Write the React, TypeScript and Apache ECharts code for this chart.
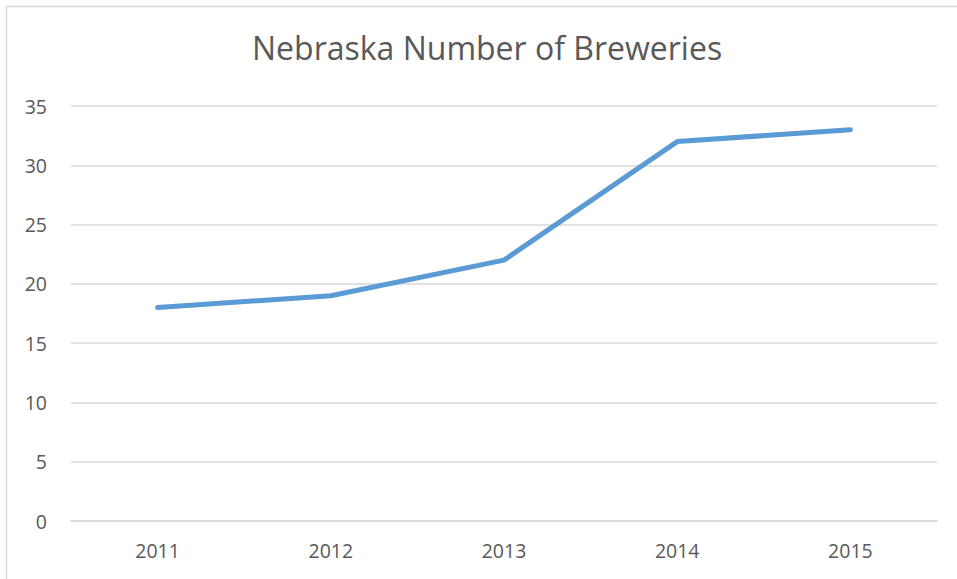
import React, { useEffect, useRef } from "react";
import * as echarts from "echarts";

const categories = ["2011", "2012", "2013", "2014", "2015"];
const breweries = [18, 19, 22, 32, 33];
const yTicks = { min: 0, max: 35, interval: 5 };
const chartTitle = "Nebraska Number of Breweries";

export default function App() {
  const ref = useRef<HTMLDivElement>(null);
  useEffect(() => {
    if (!ref.current) return;
    const chart = echarts.init(ref.current, undefined, { renderer: "svg" });
    chart.setOption({
      animation: false,
      backgroundColor: "#ffffff",
      title: {
        text: chartTitle,
        left: 247,
        top: 26,
        textStyle: {
          fontFamily: "Open Sans",
          fontSize: 32,
          fontWeight: "normal",
          color: "#595959",
        },
      },
      graphic: [
        {
          type: "rect",
          shape: { x: 6.5, y: 6.5, width: 1000, height: 1000 },
          style: { fill: "none", stroke: "#d9d9d9", lineWidth: 1.5 },
          silent: true,
        },
      ],
      grid: { left: 71, right: 20, top: 106, bottom: 58 },
      xAxis: {
        type: "category",
        data: categories,
        boundaryGap: true,
        axisLine: { show: true, lineStyle: { color: "#d9d9d9", width: 1.5 } },
        axisTick: { show: false },
        axisLabel: {
          color: "#595959",
          fontFamily: "Open Sans",
          fontSize: 19.5,
          margin: 19,
        },
      },
      yAxis: {
        type: "value",
        min: yTicks.min,
        max: yTicks.max,
        interval: yTicks.interval,
        axisLine: { show: false },
        axisTick: { show: false },
        splitLine: { lineStyle: { color: "#d9d9d9", width: 1.5 } },
        axisLabel: {
          color: "#595959",
          fontFamily: "Open Sans",
          fontSize: 19.5,
          margin: 24,
        },
      },
      series: [
        {
          type: "line",
          data: breweries,
          showSymbol: false,
          lineStyle: { color: "#5b9bd5", width: 5, cap: "round", join: "round" },
          itemStyle: { color: "#5b9bd5" },
        },
      ],
    });
    return () => chart.dispose();
  }, []);
  return (
    <div
      ref={ref}
      style={{ position: "fixed", left: 0, top: 0, width: 957, height: 579 }}
    />
  );
}
